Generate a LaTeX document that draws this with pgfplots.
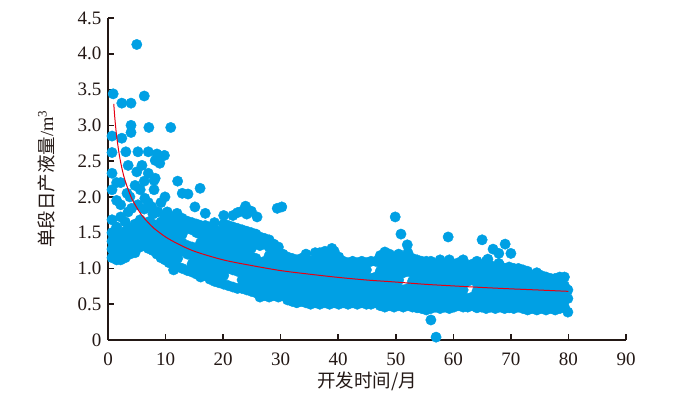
\documentclass[border=0pt]{standalone}
\usepackage{pgfplots}
\pgfplotsset{compat=1.18}
\usepackage{fontspec}
\setmainfont{Liberation Serif}
\newfontfamily\cjk{Noto Sans CJK SC}
\definecolor{axcol}{RGB}{35,24,21}
\definecolor{dotcol}{RGB}{0,160,228}
\definecolor{fitcol}{RGB}{230,0,18}
\begin{document}
\begin{tikzpicture}
\begin{axis}[name=ax, scale only axis, width=518pt, height=322pt,
  xmin=0, xmax=90, ymin=0, ymax=4.5, enlargelimits=false, clip=false,
  clip marker paths=true,
  axis lines=left, axis line style={-, line width=1.6pt, color=axcol},
  tick style={line width=1.6pt, color=axcol}, tick align=inside, major tick length=6pt,
  xtick={0,10,20,30,40,50,60,70,80,90},
  xticklabels={0,10,20,30,40,50,60,70,80,90},
  ytick={0,0.5,1,1.5,2,2.5,3,3.5,4,4.5},
  yticklabels={0,0.5,1.0,1.5,2.0,2.5,3.0,3.5,4.0,4.5},
  ticklabel style={font=\fontsize{19}{19}\selectfont, text=axcol},
  yticklabel style={xshift=-3pt},
  xticklabel style={yshift=-9pt},
  xlabel={\cjk 开发时间/月},
  ylabel={{\cjk 单段日产液量}/m\textsuperscript{3}},
  label style={font=\fontsize{18.5}{18.5}\selectfont, text=axcol},
  xlabel style={at={(axis description cs:0.5,-0.127)}, anchor=center},
  ylabel style={at={(axis description cs:-0.1197,0.5)}, anchor=center},
]
\addplot[only marks, mark=*, mark size=5.2pt, color=dotcol, mark options={draw=dotcol, fill=dotcol}] coordinates {
(0.7,1.15)(0.7,1.27)(0.7,1.38)(0.7,1.5)(0.7,1.68)(0.7,2.1)(0.7,2.33)(0.7,2.62)(0.7,2.85)(0.9,3.44)
(1.5,1.12)(1.5,1.22)(1.5,1.33)(1.5,1.45)(1.5,1.58)(1.5,1.95)(1.5,2.2)
(2.2,1.12)(2.2,1.25)(2.2,1.36)(2.2,1.47)(2.2,1.72)(2.2,1.89)(2.2,2.2)(2.4,2.82)(2.4,3.31)
(3.0,1.15)(3.0,1.28)(3.0,1.4)(3.0,1.52)(3.0,1.65)(3.5,1.79)(3.3,2.05)(3.5,2.44)(3.1,2.63)
(3.8,1.2)(3.8,1.32)(3.8,1.45)(3.8,1.56)(4.1,1.84)(3.8,2.0)(4.0,2.9)(4.0,3.0)(4.0,3.31)
(4.7,1.22)(4.7,1.35)(4.7,1.48)(4.7,1.62)(5.2,1.89)(4.7,2.16)(5.0,2.35)(5.2,2.63)(5.0,4.13)
(5.6,1.3)(5.6,1.42)(5.6,1.55)(5.6,1.68)(5.6,2.1)(5.9,2.44)
(6.3,1.32)(6.3,1.45)(6.3,1.58)(6.3,1.83)(6.4,1.98)(6.3,2.22)(6.3,3.41)
(7.0,1.28)(7.0,1.4)(7.0,1.52)(7.0,1.65)(7.0,1.92)(7.0,2.33)(7.0,2.63)(7.1,2.97)
(7.8,1.25)(7.8,1.38)(7.8,1.5)(7.8,1.62)(7.8,1.76)(7.6,1.86)(8.0,2.1)(8.0,2.23)(8.2,2.51)
(8.5,1.2)(8.5,1.33)(8.5,1.46)(8.5,1.58)(8.7,1.79)(8.2,2.26)(8.5,2.6)
(9.2,1.15)(9.2,1.27)(9.2,1.4)(9.2,1.52)(9.2,1.65)(9.2,1.92)(9.0,2.47)
(9.9,1.12)(9.9,1.24)(9.9,1.36)(9.9,1.48)(9.9,1.6)(9.9,1.72)(9.9,2.0)(9.8,2.58)
(10.6,1.08)(10.6,1.2)(10.6,1.32)(10.6,1.44)(10.6,1.56)(10.6,1.68)(10.3,1.79)(10.9,2.97)
(11.4,0.98)(11.4,1.1)(11.4,1.22)(11.4,1.35)(11.4,1.47)(11.4,1.6)(11.4,1.72)
(12.1,1.02)(12.1,1.14)(12.1,1.26)(12.1,1.38)(12.1,1.5)(12.1,1.62)(12.0,1.77)(12.1,2.22)
(12.9,1.0)(12.9,1.24)(12.9,1.36)(12.9,1.48)(12.9,1.6)(12.9,1.7)(12.9,2.05)
(13.8,0.97)(13.8,1.2)(13.8,1.32)(13.8,1.56)(13.8,1.66)(13.9,2.04)
(14.6,0.95)(14.6,1.06)(14.6,1.18)(14.6,1.3)(14.6,1.54)(14.6,1.64)
(15.4,0.92)(15.4,1.03)(15.4,1.15)(15.4,1.27)(15.4,1.5)(15.4,1.62)(15.1,1.86)
(16.1,0.88)(16.1,1.0)(16.1,1.12)(16.1,1.24)(16.1,1.36)(16.1,1.48)(16.1,1.6)(16.0,2.12)
(16.9,0.9)(16.9,1.02)(16.9,1.14)(16.9,1.26)(16.9,1.38)(16.9,1.5)(16.9,1.6)(16.9,1.77)
(17.7,0.85)(17.7,0.97)(17.7,1.09)(17.7,1.21)(17.7,1.33)(17.7,1.45)(17.7,1.57)
(18.5,0.82)(18.5,0.94)(18.5,1.06)(18.5,1.18)(18.5,1.3)(18.5,1.42)(18.5,1.54)(18.5,1.64)
(19.3,0.8)(19.3,0.92)(19.3,1.04)(19.3,1.16)(19.3,1.28)(19.3,1.4)(19.3,1.52)
(20.1,0.78)(20.1,0.9)(20.1,1.02)(20.1,1.14)(20.1,1.26)(20.1,1.38)(20.1,1.5)(20.1,1.62)(20.1,1.74)
(20.9,0.76)(20.9,1.0)(20.9,1.12)(20.9,1.24)(20.9,1.36)(20.9,1.48)(20.9,1.6)
(21.7,0.74)(21.7,0.98)(21.7,1.1)(21.7,1.22)(21.7,1.34)(21.7,1.46)(21.7,1.58)(21.7,1.74)
(22.5,0.72)(22.5,0.96)(22.5,1.08)(22.5,1.2)(22.5,1.32)(22.5,1.44)(22.5,1.56)(22.5,1.78)
(23.3,0.72)(23.3,0.84)(23.3,0.96)(23.3,1.08)(23.3,1.2)(23.3,1.32)(23.3,1.44)(23.3,1.54)(23.3,1.8)(23.9,1.87)
(24.1,0.7)(24.1,0.82)(24.1,0.94)(24.1,1.06)(24.1,1.18)(24.1,1.3)(24.1,1.42)(24.1,1.52)(24.1,1.76)
(24.9,0.68)(24.9,0.8)(24.9,0.92)(24.9,1.04)(24.9,1.16)(24.9,1.28)(24.9,1.4)(24.9,1.5)(24.9,1.8)
(25.7,0.66)(25.7,0.78)(25.7,0.9)(25.7,1.02)(25.7,1.14)(25.7,1.38)(25.7,1.48)(25.9,1.72)
(26.4,0.6)(26.4,0.72)(26.4,0.84)(26.4,0.96)(26.4,1.08)(26.4,1.32)(26.4,1.44)
(27.2,0.62)(27.2,0.74)(27.2,0.86)(27.2,0.98)(27.2,1.1)(27.2,1.34)(27.2,1.42)
(28.0,0.6)(28.0,0.7)(28.0,0.82)(28.0,0.94)(28.0,1.06)(28.0,1.18)(28.0,1.3)(28.0,1.4)
(28.8,0.62)(28.8,0.74)(28.8,0.86)(28.8,0.98)(28.8,1.1)(28.8,1.22)(28.8,1.34)(29.4,1.84)
(29.6,0.6)(29.6,0.72)(29.6,0.84)(29.6,0.96)(29.6,1.08)(29.6,1.2)(29.6,1.3)(30.2,1.86)
(30.4,0.62)(30.4,0.74)(30.4,0.86)(30.4,0.98)(30.4,1.1)(30.4,1.2)
(31.2,0.56)(31.2,0.68)(31.2,0.8)(31.2,0.92)(31.2,1.04)(31.2,1.16)
(32.0,0.54)(32.0,0.66)(32.0,0.78)(32.0,0.9)(32.0,1.02)(32.0,1.14)
(32.8,0.52)(32.8,0.64)(32.8,0.76)(32.8,0.88)(32.8,1.0)(32.8,1.12)
(33.6,0.54)(33.6,0.66)(33.6,0.78)(33.6,0.9)(33.6,1.02)(33.6,1.14)
(34.4,0.52)(34.4,0.64)(34.4,0.76)(34.4,0.88)(34.4,1.0)(34.4,1.12)(34.4,1.2)
(35.2,0.5)(35.2,0.62)(35.2,0.74)(35.2,0.86)(35.2,0.98)(35.2,1.1)
(36.0,0.52)(36.0,0.64)(36.0,0.76)(36.0,0.88)(36.0,1.0)(36.0,1.12)(36.0,1.22)
(36.8,0.5)(36.8,0.62)(36.8,0.74)(36.8,0.86)(36.8,0.98)(36.8,1.1)(36.8,1.22)
(37.7,0.52)(37.7,0.64)(37.7,0.76)(37.7,0.88)(37.7,1.0)(37.7,1.12)(37.7,1.24)
(38.5,0.5)(38.5,0.62)(38.5,0.74)(38.5,0.86)(38.5,0.98)(38.5,1.1)(38.5,1.2)(38.9,1.28)
(39.3,0.52)(39.3,0.64)(39.3,0.76)(39.3,0.88)(39.3,1.0)(39.3,1.12)(39.3,1.24)
(40.1,0.5)(40.1,0.62)(40.1,0.74)(40.1,0.86)(40.1,0.98)(40.1,1.08)(40.1,1.16)
(40.9,0.52)(40.9,0.64)(40.9,0.76)(40.9,0.88)(40.9,1.0)(40.9,1.1)
(41.7,0.5)(41.7,0.62)(41.7,0.74)(41.7,0.86)(41.7,0.98)(41.7,1.08)
(42.5,0.52)(42.5,0.64)(42.5,0.76)(42.5,0.88)(42.5,1.0)(42.5,1.1)
(43.3,0.5)(43.3,0.62)(43.3,0.74)(43.3,0.86)(43.3,0.98)(43.3,1.08)
(44.1,0.52)(44.1,0.64)(44.1,0.76)(44.1,0.88)(44.1,1.0)(44.1,1.1)
(44.9,0.5)(44.9,0.62)(44.9,0.74)(44.9,0.86)(44.9,0.98)(44.9,1.08)
(45.7,0.5)(45.7,0.62)(45.7,0.74)(45.7,0.86)(45.7,1.1)
(46.5,0.52)(46.5,0.64)(46.5,0.76)(46.5,0.88)(46.5,1.1)
(47.3,0.48)(47.3,0.6)(47.3,0.72)(47.3,0.84)(47.3,0.96)(47.3,1.08)(47.3,1.18)
(48.1,0.46)(48.1,0.58)(48.1,0.7)(48.1,0.82)(48.1,0.94)(48.1,1.06)(48.1,1.18)(48.1,1.23)
(48.9,0.48)(48.9,0.6)(48.9,0.72)(48.9,0.84)(48.9,0.96)(48.9,1.08)(48.9,1.2)
(49.7,0.46)(49.7,0.58)(49.7,0.7)(49.7,0.82)(49.7,0.94)(49.7,1.06)(49.7,1.16)(49.9,1.72)
(50.5,0.48)(50.5,0.6)(50.5,0.72)(50.5,0.84)(50.5,0.96)(50.5,1.08)(50.5,1.2)(50.9,1.48)
(51.3,0.46)(51.3,0.58)(51.3,0.7)(51.3,0.94)(51.3,1.06)(51.3,1.16)(52.0,1.33)
(52.1,0.48)(52.1,0.6)(52.1,0.72)(52.1,0.96)(52.1,1.08)(52.1,1.22)
(52.9,0.46)(52.9,0.58)(52.9,0.7)(52.9,0.82)(52.9,0.94)(52.9,1.06)(52.9,1.14)
(53.7,0.45)(53.7,0.56)(53.7,0.68)(53.7,0.8)(53.7,0.92)(53.7,1.04)(53.7,1.12)
(54.5,0.44)(54.5,0.56)(54.5,0.68)(54.5,0.8)(54.5,0.92)(54.5,1.04)(54.5,1.1)
(55.3,0.42)(55.3,0.54)(55.3,0.66)(55.3,0.78)(55.3,0.9)(55.3,1.02)(55.3,1.1)
(56.1,0.28)(56.1,0.44)(56.1,0.56)(56.1,0.68)(56.1,0.8)(56.1,0.92)(56.1,1.04)(56.1,1.1)(57.0,0.04)
(56.9,0.46)(56.9,0.58)(56.9,0.7)(56.9,0.82)(56.9,0.94)(56.9,1.06)
(57.7,0.44)(57.7,0.56)(57.7,0.68)(57.7,0.8)(57.7,0.92)(57.7,1.04)(57.7,1.12)
(58.5,0.46)(58.5,0.58)(58.5,0.7)(58.5,0.82)(58.5,0.94)(58.5,1.06)(59.1,1.44)
(59.3,0.44)(59.3,0.56)(59.3,0.68)(59.3,0.8)(59.3,0.92)(59.3,1.04)(59.3,1.12)
(60.1,0.46)(60.1,0.58)(60.1,0.7)(60.1,0.82)(60.1,0.94)(60.1,1.06)
(60.9,0.48)(60.9,0.6)(60.9,0.72)(60.9,0.84)(60.9,0.96)(60.9,1.08)
(61.7,0.46)(61.7,0.58)(61.7,0.7)(61.7,0.82)(61.7,0.94)(61.7,1.06)(61.7,1.12)
(62.5,0.46)(62.5,0.58)(62.5,0.82)(62.5,0.94)(62.5,1.04)
(63.3,0.48)(63.3,0.6)(63.3,0.84)(63.3,0.96)(63.3,1.06)
(64.1,0.45)(64.1,0.56)(64.1,0.68)(64.1,0.8)(64.1,0.92)(64.1,1.04)(64.1,1.1)
(64.9,0.46)(64.9,0.58)(64.9,0.7)(64.9,0.82)(64.9,0.94)(64.9,1.04)(65.0,1.4)
(65.7,0.44)(65.7,0.56)(65.7,0.68)(65.7,0.8)(65.7,0.92)(65.7,1.02)(65.7,1.1)(66.0,1.13)
(66.5,0.46)(66.5,0.58)(66.5,0.7)(66.5,0.82)(66.5,0.94)(66.5,1.04)(66.9,1.27)
(67.3,0.44)(67.3,0.56)(67.3,0.68)(67.3,0.8)(67.3,0.92)(67.3,1.02)(67.9,1.21)(67.9,1.07)
(68.1,0.46)(68.1,0.58)(68.1,0.7)(68.1,0.82)(68.1,0.94)(68.1,1.04)
(68.9,0.44)(68.9,0.56)(68.9,0.68)(68.9,0.8)(68.9,0.92)(68.9,1.0)(69.0,1.34)
(69.7,0.45)(69.7,0.56)(69.7,0.68)(69.7,0.8)(69.7,0.92)(69.7,1.02)(70.0,1.21)
(70.5,0.44)(70.5,0.56)(70.5,0.68)(70.5,0.8)(70.5,0.9)(70.5,1.0)
(71.3,0.46)(71.3,0.58)(71.3,0.7)(71.3,0.82)(71.3,0.92)(71.3,1.0)
(72.1,0.44)(72.1,0.56)(72.1,0.68)(72.1,0.8)(72.1,0.9)(72.1,0.98)
(72.9,0.42)(72.9,0.54)(72.9,0.66)(72.9,0.78)(72.9,0.88)(72.9,0.96)
(73.7,0.44)(73.7,0.56)(73.7,0.68)(73.7,0.8)(73.7,0.9)
(74.5,0.42)(74.5,0.54)(74.5,0.66)(74.5,0.78)(74.5,0.88)(74.5,0.94)
(75.3,0.44)(75.3,0.56)(75.3,0.68)(75.3,0.8)(75.3,0.9)
(76.1,0.42)(76.1,0.54)(76.1,0.66)(76.1,0.78)(76.1,0.88)
(76.9,0.44)(76.9,0.56)(76.9,0.68)(76.9,0.78)(76.9,0.86)
(77.7,0.42)(77.7,0.54)(77.7,0.66)(77.7,0.76)(77.7,0.86)
(78.5,0.44)(78.5,0.56)(78.5,0.66)(78.5,0.76)(78.5,0.88)
(79.3,0.46)(79.3,0.56)(79.3,0.66)(79.3,0.76)(79.3,0.88)
(79.9,0.39)(79.9,0.58)(79.9,0.7)
};
\addplot[smooth, color=fitcol, line width=1pt] coordinates {
(1,3.30)(1.2,3.09)(1.5,2.85)(2,2.57)(2.5,2.37)(3,2.22)(4,2.00)(5,1.85)(6,1.73)(7,1.64)(8,1.56)(10,1.44)(12,1.35)(15,1.24)(20,1.12)(25,1.04)(30,0.97)(35,0.92)(40,0.875)(45,0.838)(50,0.81)(55,0.779)(60,0.756)(65,0.734)(70,0.715)(75,0.698)(80,0.68)
};
\end{axis}
\pgfresetboundingbox
\path (ax.south west) ++(-108pt,-56pt) rectangle ([xshift=53pt,yshift=18pt]ax.north east);
\end{tikzpicture}
\end{document}
